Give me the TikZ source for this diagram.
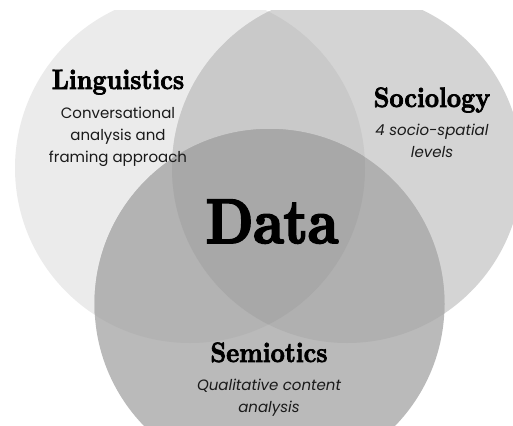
\documentclass[tikz,border=0pt]{standalone}
\usepackage{fontspec}
\newfontfamily\headfont{lmroman10-bold.otf}[FakeStretch=0.88,FakeBold=2.5]
\newfontfamily\bigfont{lmroman10-bold.otf}[FakeStretch=0.86,FakeBold=3]
\newfontfamily\bodyfont{Poppins}
\definecolor{cL}{HTML}{EBEBEB}
\definecolor{cR}{HTML}{D4D4D4}
\definecolor{cLR}{HTML}{C9C9C9}
\definecolor{cB}{HTML}{BABABA}
\definecolor{cBL}{HTML}{B3B3B3}
\definecolor{cBR}{HTML}{B0B0B0}
\definecolor{cAll}{HTML}{A8A8A8}
\definecolor{ink}{HTML}{1A1A1A}
\begin{document}
\begin{tikzpicture}[x=1pt,y=-1pt,
  head/.style={anchor=base,inner sep=0pt,text=black,font=\headfont\fontsize{28}{28}\selectfont},
  big/.style={anchor=base,inner sep=0pt,text=black,font=\bigfont\fontsize{63}{63}\selectfont},
  body/.style={anchor=base,inner sep=0pt,text=ink,font=\bodyfont\fontsize{15}{15}\selectfont},
  bodyit/.style={body,font=\bodyfont\itshape\fontsize{15}{15}\selectfont}]
\useasboundingbox (0,0) rectangle (513,425);
\coordinate (cl) at (190,168);
\coordinate (cr) at (347,168);
\coordinate (cb) at (269.5,304);
\def\rr{175}
\begin{scope}
  \clip (0,11) rectangle (513,425);
  \fill[cL] (cl) circle[radius=\rr];
  \fill[cR] (cr) circle[radius=\rr];
  \begin{scope}
    \clip (cl) circle[radius=\rr];
    \fill[cLR] (cr) circle[radius=\rr];
  \end{scope}
  \fill[cB] (cb) circle[radius=\rr];
  \begin{scope}
    \clip (cb) circle[radius=\rr];
    \fill[cBL] (cl) circle[radius=\rr];
    \fill[cBR] (cr) circle[radius=\rr];
    \clip (cl) circle[radius=\rr];
    \fill[cAll] (cr) circle[radius=\rr];
  \end{scope}
\end{scope}
% Linguistics
\node[head] (ling) at (118,89) {Linguistics};
\node[body] (ling1) at (118,118) {Conversational};
\node[body] (ling2) at (118,140) {analysis and};
\node[body] (ling3) at (118,162) {framing approach};
% Sociology
\node[head] (soc) at (432,107) {Sociology};
\node[bodyit] (soc1) at (432,135) {4 socio-spatial};
\node[bodyit] (soc2) at (432,157) {levels};
% Data
\node[big] (data) at (272,243) {Data};
% Semiotics
\node[head] (sem) at (269,362) {Semiotics};
\node[bodyit] (sem1) at (269,390) {Qualitative content};
\node[bodyit] (sem2) at (269,412) {analysis};
\end{tikzpicture}
\end{document}
